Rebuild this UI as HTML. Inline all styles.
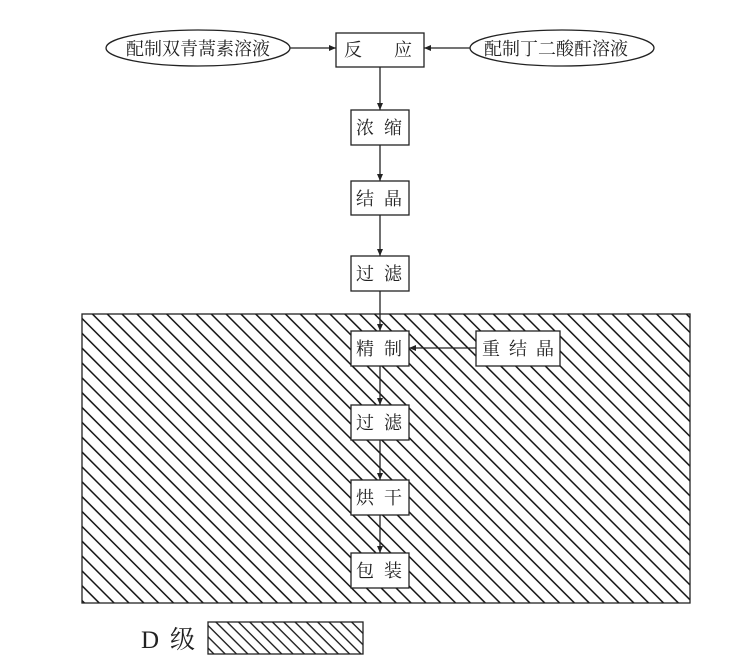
<!DOCTYPE html>
<html><head><meta charset="utf-8"><style>
body{margin:0;background:#fff}
svg text{font-family:"Liberation Serif","Noto Serif CJK SC",serif;font-size:18px;fill:#222;white-space:pre}
</style></head><body>
<svg width="729" height="666" viewBox="0 0 729 666" xmlns="http://www.w3.org/2000/svg">
<defs>
<pattern id="h" patternUnits="userSpaceOnUse" width="10.5" height="10.5" patternTransform="rotate(-45)">
<line x1="0.8" y1="0" x2="0.8" y2="10.5" stroke="#111" stroke-width="1.5"/>
</pattern>
<pattern id="h2" patternUnits="userSpaceOnUse" width="8" height="8" patternTransform="rotate(-45)">
<line x1="0.8" y1="0" x2="0.8" y2="8" stroke="#111" stroke-width="1.3"/>
</pattern>
<marker id="a" markerWidth="8" markerHeight="8" refX="7" refY="3" orient="auto" markerUnits="userSpaceOnUse"><path d="M0,0 L7,3 L0,6z" fill="#222"/></marker>
</defs>
<g stroke="#222" fill="none" stroke-width="1.3">
<rect x="82" y="314" width="608" height="289" fill="url(#h)"/>
<ellipse cx="198" cy="48" rx="92" ry="18" fill="#fff"/>
<ellipse cx="562" cy="48" rx="92" ry="18" fill="#fff"/>
<line x1="290" y1="48" x2="336" y2="48" marker-end="url(#a)"/>
<line x1="470" y1="48" x2="424" y2="48" marker-end="url(#a)"/>
<line x1="380" y1="67" x2="380" y2="110" marker-end="url(#a)"/>
<line x1="380" y1="145" x2="380" y2="181" marker-end="url(#a)"/>
<line x1="380" y1="215" x2="380" y2="256" marker-end="url(#a)"/>
<line x1="380" y1="291" x2="380" y2="331" marker-end="url(#a)"/>
<line x1="380" y1="366" x2="380" y2="405" marker-end="url(#a)"/>
<line x1="380" y1="440" x2="380" y2="480" marker-end="url(#a)"/>
<line x1="380" y1="515" x2="380" y2="553" marker-end="url(#a)"/>
<line x1="476" y1="348" x2="409" y2="348" marker-end="url(#a)"/>
<rect x="336" y="33" width="88" height="34" fill="#fff"/>
<rect x="351" y="110" width="58" height="35" fill="#fff"/>
<rect x="351" y="181" width="58" height="34" fill="#fff"/>
<rect x="351" y="256" width="58" height="35" fill="#fff"/>
<rect x="351" y="331" width="58" height="35" fill="#fff"/>
<rect x="476" y="331" width="84" height="35" fill="#fff"/>
<rect x="351" y="405" width="58" height="35" fill="#fff"/>
<rect x="351" y="480" width="58" height="35" fill="#fff"/>
<rect x="351" y="553" width="58" height="35" fill="#fff"/>
<rect x="208" y="622" width="155" height="32" fill="url(#h2)"/>
</g>
<text x="126" y="55">配制双青蒿素溶液</text>
<text x="484" y="55">配制丁二酸酐溶液</text>
<text x="344" y="56">反</text><text x="394" y="56">应</text>
<text x="356" y="134">浓</text><text x="384" y="134">缩</text>
<text x="356" y="205">结</text><text x="384" y="205">晶</text>
<text x="356" y="280">过</text><text x="384" y="280">滤</text>
<text x="356" y="355">精</text><text x="384" y="355">制</text>
<text x="482" y="355">重</text><text x="509" y="355">结</text><text x="536" y="355">晶</text>
<text x="356" y="429">过</text><text x="384" y="429">滤</text>
<text x="356" y="504">烘</text><text x="384" y="504">干</text>
<text x="356" y="577">包</text><text x="384" y="577">装</text>
<text x="141" y="648" style="font-size:25px">D</text><text x="170" y="648" style="font-size:25px">级</text>
</svg>
</body></html>
